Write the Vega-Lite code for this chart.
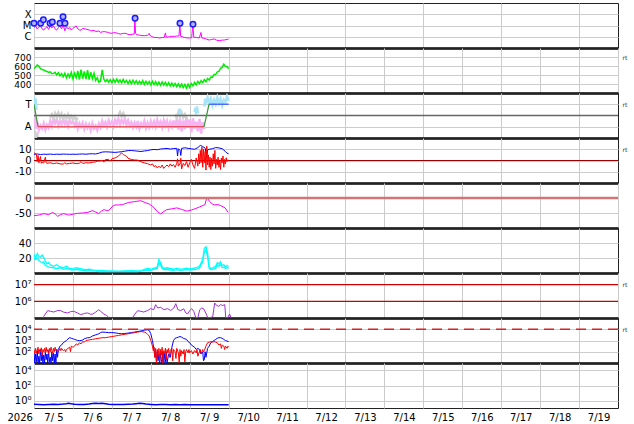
{
"$schema":"https://vega.github.io/schema/vega-lite/v6.json",
"padding":{"left":6,"top":2,"right":2,"bottom":2},
"bounds":"flush",
"spacing":0,
"config":{
 "view":{"stroke":"#222","strokeWidth":1},
 "font":"DejaVu Sans",
 "axis":{"labelFont":"DejaVu Sans","labelFontSize":10,"labelColor":"#000","gridColor":"#cccccc","gridWidth":1,"ticks":false,"domain":false,"labelPadding":3,"labelOverlap":false,"titleFont":"DejaVu Sans"}
},
"datasets":{
"xr":[{"h":0,"v":6.6e-6},{"h":1,"v":9e-6},{"h":2,"v":4.8e-6},{"h":3,"v":7e-6},{"h":4,"v":9.3e-6},{"h":5,"v":5e-6},{"h":6,"v":3.9e-6},{"h":7,"v":6e-6},{"h":8,"v":7.8e-6},{"h":9,"v":4.5e-6},{"h":10,"v":8.5e-6},{"h":11,"v":6e-6},{"h":12,"v":9.3e-6},{"h":13,"v":5e-6},{"h":14,"v":3.9e-6},{"h":15,"v":6.5e-6},{"h":16,"v":9e-6},{"h":17,"v":5e-6},{"h":18,"v":1.1e-5},{"h":19,"v":3.4e-6},{"h":20,"v":7.8e-6},{"h":21,"v":5e-6},{"h":22,"v":6.5e-6},{"h":23,"v":3.9e-6},{"h":24,"v":5.5e-6},{"h":26,"v":9.3e-6},{"h":27,"v":5e-6},{"h":28,"v":4e-6},{"h":29,"v":3.9e-6},{"h":30,"v":5.5e-6},{"h":32,"v":4.8e-6},{"h":34,"v":4e-6},{"h":35,"v":3.4e-6},{"h":37,"v":3.6e-6},{"h":38,"v":2.95e-6},{"h":40,"v":3.2e-6},{"h":41,"v":2.45e-6},{"h":43,"v":2.9e-6},{"h":44,"v":2.75e-6},{"h":46,"v":2.4e-6},{"h":47.5,"v":2.0e-6},{"h":49,"v":2.3e-6},{"h":50.6,"v":2.24e-6},{"h":52,"v":1.9e-6},{"h":53.6,"v":1.74e-6},{"h":55,"v":2.0e-6},{"h":56.7,"v":2.0e-6},{"h":58,"v":1.6e-6},{"h":59.8,"v":1.51e-6},{"h":61,"v":1.74e-6},{"h":61.8,"v":1.7e-6},{"h":62.2,"v":4.2e-5},{"h":62.6,"v":2.0e-6},{"h":63.5,"v":1.5e-6},{"h":64.9,"v":1.41e-6},{"h":66,"v":1.3e-6},{"h":68,"v":1.23e-6},{"h":70,"v":1.35e-6},{"h":71,"v":2.0e-6},{"h":71.5,"v":1.3e-6},{"h":73,"v":1.0e-6},{"h":74.2,"v":8.7e-7},{"h":76,"v":8.5e-7},{"h":77.2,"v":7.8e-7},{"h":79,"v":8.5e-7},{"h":80.3,"v":8.7e-7},{"h":81,"v":2.2e-6},{"h":81.6,"v":9e-7},{"h":83.4,"v":1.0e-6},{"h":85,"v":1.1e-6},{"h":86.5,"v":1.07e-6},{"h":88,"v":1.15e-6},{"h":89.4,"v":1.2e-6},{"h":89.9,"v":1.6e-5},{"h":90.4,"v":1.1e-6},{"h":92.6,"v":8.7e-7},{"h":94,"v":8e-7},{"h":95.7,"v":7.8e-7},{"h":97.2,"v":8e-7},{"h":97.9,"v":1.3e-5},{"h":98.5,"v":9e-7},{"h":100,"v":8.7e-7},{"h":101.9,"v":7.8e-7},{"h":102.9,"v":2.4e-6},{"h":103.5,"v":8e-7},{"h":104.9,"v":7.2e-7},{"h":106.5,"v":6e-7},{"h":108,"v":5.1e-7},{"h":109.5,"v":5.8e-7},{"h":111.1,"v":6.3e-7},{"h":112.5,"v":5e-7},{"h":114.2,"v":4.5e-7},{"h":116,"v":5e-7},{"h":117.3,"v":5.1e-7},{"h":119,"v":5.8e-7},{"h":120,"v":6.3e-7}],
"fl":[{"h":0,"v":1.6e-5},{"h":4.1,"v":1.6e-5},{"h":5.8,"v":3.2e-5},{"h":9.9,"v":1.6e-5},{"h":11.3,"v":2.1e-5},{"h":16,"v":1.6e-5},{"h":17.9,"v":5.9e-5},{"h":19.1,"v":1.6e-5},{"h":62.3,"v":4.5e-5},{"h":90,"v":1.6e-5},{"h":98,"v":1.3e-5}],
"sw":[{"h":0,"v":573},{"h":1,"v":590},{"h":2,"v":611},{"h":3,"v":600},{"h":4,"v":570},{"h":5,"v":560},{"h":6,"v":556},{"h":7,"v":545},{"h":8,"v":540},{"h":9,"v":528},{"h":10,"v":535},{"h":11,"v":515},{"h":12,"v":518},{"h":13,"v":530},{"h":14,"v":500},{"h":15,"v":525},{"h":16,"v":490},{"h":17,"v":515},{"h":18,"v":480},{"h":19,"v":520},{"h":20,"v":470},{"h":21,"v":510},{"h":22,"v":475},{"h":23,"v":530},{"h":24,"v":460},{"h":25,"v":520},{"h":26,"v":470},{"h":27,"v":545},{"h":28,"v":450},{"h":29,"v":560},{"h":30,"v":460},{"h":31,"v":540},{"h":32,"v":455},{"h":33,"v":555},{"h":34,"v":450},{"h":35,"v":530},{"h":36,"v":460},{"h":37,"v":520},{"h":38,"v":440},{"h":39,"v":470},{"h":40,"v":420},{"h":41,"v":430},{"h":42,"v":556},{"h":43,"v":455},{"h":44,"v":425},{"h":45,"v":450},{"h":46,"v":420},{"h":47,"v":448},{"h":48,"v":415},{"h":49,"v":452},{"h":50,"v":418},{"h":51,"v":455},{"h":52,"v":420},{"h":53,"v":445},{"h":54,"v":412},{"h":55,"v":450},{"h":56,"v":415},{"h":57,"v":440},{"h":58,"v":405},{"h":59,"v":440},{"h":60,"v":402},{"h":61,"v":442},{"h":62,"v":405},{"h":63,"v":435},{"h":64,"v":400},{"h":65,"v":432},{"h":66,"v":402},{"h":67,"v":438},{"h":68,"v":395},{"h":69,"v":430},{"h":70,"v":398},{"h":71,"v":428},{"h":72,"v":390},{"h":73,"v":430},{"h":74,"v":392},{"h":75,"v":425},{"h":76,"v":388},{"h":77,"v":420},{"h":78,"v":385},{"h":79,"v":422},{"h":80,"v":388},{"h":81,"v":418},{"h":82,"v":382},{"h":83,"v":415},{"h":84,"v":378},{"h":85,"v":410},{"h":86,"v":375},{"h":87,"v":405},{"h":88,"v":370},{"h":89,"v":402},{"h":90,"v":365},{"h":91,"v":400},{"h":92,"v":360},{"h":93,"v":395},{"h":94,"v":355},{"h":95,"v":398},{"h":96,"v":362},{"h":97,"v":405},{"h":98,"v":380},{"h":99,"v":418},{"h":100,"v":390},{"h":101,"v":428},{"h":102,"v":405},{"h":103,"v":438},{"h":104,"v":415},{"h":105,"v":448},{"h":106,"v":425},{"h":107,"v":462},{"h":108,"v":445},{"h":109,"v":478},{"h":110,"v":475},{"h":111,"v":505},{"h":112,"v":505},{"h":113,"v":535},{"h":114,"v":540},{"h":115,"v":575},{"h":116,"v":585},{"h":117,"v":620},{"h":118,"v":595},{"h":119,"v":595},{"h":120,"v":570}],
"pk":[{"h":0,"v":-0.3},{"h":0.5,"v":-1.0},{"h":1,"v":0.0},{"h":1.5,"v":-1.2},{"h":2,"v":-0.6},{"h":3,"v":-1.3},{"h":4,"v":-0.9},{"h":5,"v":-1.15},{"h":6,"v":-0.7},{"h":7,"v":-1.25},{"h":8,"v":-0.85},{"h":9,"v":-1.1},{"h":10,"v":-0.5},{"h":11,"v":-0.95},{"h":12,"v":-0.35},{"h":13,"v":-0.7},{"h":14,"v":-0.3},{"h":15,"v":-0.9},{"h":16,"v":-0.5},{"h":17,"v":-0.8},{"h":18,"v":-0.3},{"h":19,"v":-0.75},{"h":20,"v":-0.5},{"h":21,"v":-0.95},{"h":22,"v":-0.4},{"h":23,"v":-0.7},{"h":24,"v":-0.55},{"h":25,"v":-0.9},{"h":26,"v":-0.5},{"h":27,"v":-1.15},{"h":28,"v":-0.7},{"h":29,"v":-1.0},{"h":30,"v":-0.65},{"h":31,"v":-1.2},{"h":32,"v":-0.75},{"h":33,"v":-1.1},{"h":34,"v":-0.8},{"h":35,"v":-1.3},{"h":36,"v":-0.7},{"h":37,"v":-1.15},{"h":38,"v":-0.9},{"h":39,"v":-1.3},{"h":40,"v":-0.75},{"h":41,"v":-1.05},{"h":42,"v":-0.5},{"h":43,"v":-0.9},{"h":44,"v":-0.6},{"h":45,"v":-1.0},{"h":46,"v":-0.45},{"h":47,"v":-0.8},{"h":48,"v":-0.55},{"h":49,"v":-0.95},{"h":50,"v":-0.4},{"h":51,"v":-0.75},{"h":52,"v":-0.3},{"h":53,"v":-0.8},{"h":54,"v":-0.4},{"h":55,"v":-0.7},{"h":56,"v":-0.3},{"h":57,"v":-0.85},{"h":58,"v":-0.45},{"h":59,"v":-0.9},{"h":60,"v":-0.6},{"h":61,"v":-1.05},{"h":62,"v":-0.65},{"h":63,"v":-1.0},{"h":64,"v":-0.5},{"h":65,"v":-1.15},{"h":66,"v":-0.7},{"h":67,"v":-0.95},{"h":68,"v":-0.5},{"h":69,"v":-1.1},{"h":70,"v":-0.65},{"h":71,"v":-1.05},{"h":72,"v":-0.5},{"h":73,"v":-0.95},{"h":74,"v":-0.55},{"h":75,"v":-1.0},{"h":76,"v":-0.4},{"h":77,"v":-0.85},{"h":78,"v":-0.55},{"h":79,"v":-1.05},{"h":80,"v":-0.45},{"h":81,"v":-0.9},{"h":82,"v":-0.5},{"h":83,"v":-1.1},{"h":84,"v":-0.6},{"h":85,"v":-1.0},{"h":86,"v":-0.45},{"h":87,"v":-1.05},{"h":88,"v":-0.3},{"h":89,"v":-1.25},{"h":90,"v":-0.25},{"h":91,"v":-1.4},{"h":92,"v":-0.45},{"h":93,"v":-1.2},{"h":94,"v":-0.15},{"h":95,"v":-1.1},{"h":96,"v":-0.35},{"h":97,"v":-1.5},{"h":98,"v":-0.25},{"h":99,"v":-1.15},{"h":100,"v":-0.55},{"h":101,"v":-1.4},{"h":102,"v":-0.3},{"h":103,"v":-1.6},{"h":104,"v":-0.6},{"h":105,"v":-1.2}],
"gy":[{"s":"a","h":0,"v":-1.5},{"s":"a","h":0.5,"v":-1.8},{"s":"a","h":1,"v":-1.6},{"s":"a","h":1.5,"v":-1.85},{"s":"a","h":2,"v":-1.7},{"s":"a","h":2.5,"v":-1.9},
 {"s":"b","h":10,"v":-0.2},{"s":"b","h":11,"v":0.1},{"s":"b","h":12,"v":-0.3},{"s":"b","h":13,"v":0.2},{"s":"b","h":14,"v":-0.1},{"s":"b","h":15,"v":0.25},{"s":"b","h":16,"v":-0.2},{"s":"b","h":17,"v":0.15},{"s":"b","h":18,"v":-0.3},{"s":"b","h":19,"v":0.0},{"s":"b","h":20,"v":-0.25},{"s":"b","h":21,"v":0.1},{"s":"b","h":22,"v":-0.3},{"s":"b","h":23,"v":-0.05},{"s":"b","h":24,"v":-0.35},{"s":"b","h":25,"v":-0.1},{"s":"b","h":26,"v":-0.4},{"s":"b","h":27,"v":-0.2},
 {"s":"c","h":52,"v":0.0},{"s":"c","h":53,"v":0.3},{"s":"c","h":54,"v":-0.1},{"s":"c","h":55,"v":0.2},{"s":"c","h":56,"v":-0.15},
 {"s":"d","h":87,"v":0.1},{"s":"d","h":88,"v":-0.2},{"s":"d","h":89,"v":0.3},{"s":"d","h":90,"v":-0.1},{"s":"d","h":91,"v":0.25},{"s":"d","h":92,"v":-0.2},{"s":"d","h":93,"v":0.1},{"s":"d","h":94,"v":-0.3}],
"lb":[{"s":"a","h":0,"v":1.7},{"s":"a","h":0.5,"v":0.8},{"s":"a","h":1,"v":1.5},{"s":"a","h":1.5,"v":0.5},
 {"s":"b","h":89.5,"v":0.2},{"s":"b","h":90,"v":0.6},{"s":"b","h":90.5,"v":0.0},
 {"s":"c","h":99,"v":0.3},{"s":"c","h":99.5,"v":0.7},{"s":"c","h":100,"v":0.1},{"s":"c","h":100.5,"v":0.8},{"s":"c","h":101,"v":0.2},
 {"s":"d","h":105,"v":0.8},{"s":"d","h":105.5,"v":1.5},{"s":"d","h":106,"v":1.0},{"s":"d","h":107,"v":1.6},{"s":"d","h":108,"v":1.1},{"s":"d","h":109,"v":1.5},{"s":"d","h":110,"v":0.9},{"s":"d","h":111,"v":1.4},{"s":"d","h":112,"v":1.0},{"s":"d","h":113,"v":1.6},{"s":"d","h":114,"v":1.1},{"s":"d","h":115,"v":1.5},{"s":"d","h":116,"v":0.9},{"s":"d","h":117,"v":1.4},{"s":"d","h":118,"v":1.2},{"s":"d","h":119,"v":1.7},{"s":"d","h":120,"v":1.3}],
"sg":[{"s":"a","h":0,"v":1},{"s":"a","h":2.5,"v":-1},{"s":"b","h":104.8,"v":-1},{"s":"b","h":107.9,"v":1}],
"sr":[{"h":2.5,"v":-1},{"h":104.8,"v":-1}],
"sb":[{"h":107.9,"v":1},{"h":120,"v":1}],
"bt":[{"h":0,"v":5.5},{"h":2,"v":5.8},{"h":4,"v":5.3},{"h":6,"v":5.6},{"h":8,"v":5.5},{"h":10,"v":5.7},{"h":12,"v":5.4},{"h":14,"v":5.6},{"h":16,"v":5.5},{"h":18,"v":5.7},{"h":20,"v":5.6},{"h":22,"v":5.5},{"h":24,"v":5.6},{"h":26,"v":5.5},{"h":28,"v":5.7},{"h":30,"v":5.8},{"h":32,"v":5.6},{"h":34,"v":5.9},{"h":36,"v":6.0},{"h":38,"v":5.8},{"h":40,"v":6.5},{"h":42,"v":7.5},{"h":44,"v":7.7},{"h":46,"v":7.6},{"h":48,"v":7.4},{"h":50,"v":7.2},{"h":52,"v":7.5},{"h":54,"v":7.8},{"h":56,"v":8.3},{"h":58,"v":8.8},{"h":60,"v":8.9},{"h":62,"v":8.6},{"h":64,"v":8.3},{"h":66,"v":8.0},{"h":68,"v":8.5},{"h":70,"v":8.8},{"h":72,"v":9.5},{"h":74,"v":9.8},{"h":76,"v":9.6},{"h":78,"v":10.2},{"h":80,"v":10.5},{"h":82,"v":10.7},{"h":84,"v":10.2},{"h":86,"v":10.6},{"h":88,"v":10.8},{"h":88.5,"v":4.0},{"h":89,"v":10.5},{"h":90,"v":9.0},{"h":90.5,"v":4.5},{"h":91,"v":10.8},{"h":93,"v":11.3},{"h":95,"v":10.8},{"h":97,"v":10.4},{"h":99,"v":10.0},{"h":101,"v":11.5},{"h":102.5,"v":13.4},{"h":104,"v":12.5},{"h":105.5,"v":11.0},{"h":106.5,"v":2.5},{"h":107,"v":9.5},{"h":108,"v":10.0},{"h":110,"v":10.5},{"h":112,"v":11.5},{"h":114,"v":11.2},{"h":116,"v":10.5},{"h":118,"v":8.0},{"h":119,"v":6.5},{"h":120,"v":5.9}],
"bz":[{"h":0,"v":6.8},{"h":1,"v":6.0},{"h":1.5,"v":5.5},{"h":2,"v":-1},{"h":2.5,"v":4.5},{"h":3,"v":-2},{"h":4,"v":3.5},{"h":4.5,"v":-2.5},{"h":5,"v":-1.5},{"h":6,"v":-2.2},{"h":7,"v":3},{"h":7.5,"v":-2},{"h":8,"v":-2.5},{"h":10,"v":-2.0},{"h":12,"v":-2.8},{"h":14,"v":-2.2},{"h":16,"v":-3.0},{"h":18,"v":-3.2},{"h":19,"v":-2},{"h":20,"v":-3.0},{"h":22,"v":-2.6},{"h":24,"v":-2.2},{"h":26,"v":-2.8},{"h":28,"v":-2.4},{"h":29,"v":-1.0},{"h":30,"v":-2.6},{"h":32,"v":-2.0},{"h":34,"v":-2.2},{"h":36,"v":-1.6},{"h":38,"v":-1.2},{"h":39,"v":-0.5},{"h":40,"v":-0.6},{"h":42,"v":0.2},{"h":43,"v":-1.5},{"h":44,"v":0.8},{"h":46,"v":1.0},{"h":47,"v":-0.5},{"h":48,"v":1.5},{"h":50,"v":2.3},{"h":52,"v":3.8},{"h":53,"v":5.5},{"h":54,"v":6.8},{"h":55,"v":5.3},{"h":56,"v":4.5},{"h":57,"v":3.8},{"h":58,"v":2.0},{"h":60,"v":0.9},{"h":62,"v":0.5},{"h":64,"v":0.3},{"h":66,"v":-1.2},{"h":68,"v":-2.1},{"h":70,"v":-2.8},{"h":72,"v":-4.0},{"h":73,"v":-3.0},{"h":74,"v":-5.5},{"h":75,"v":-4.5},{"h":76,"v":-6.6},{"h":77,"v":-5.0},{"h":78,"v":-6.5},{"h":79,"v":-4.0},{"h":80,"v":-7.0},{"h":81,"v":-5.5},{"h":82,"v":-4.0},{"h":83,"v":-5.5},{"h":84,"v":-3.0},{"h":85,"v":-5.0},{"h":86,"v":-3.6},{"h":87,"v":-6.0},{"h":88,"v":-2.5},{"h":88.5,"v":1.5},{"h":89,"v":-5.0},{"h":90,"v":-3.0},{"h":90.5,"v":2.0},{"h":91,"v":-7.5},{"h":92,"v":-2.5},{"h":93,"v":-4.5},{"h":94,"v":-1.0},{"h":95,"v":-6.0},{"h":96,"v":-2.0},{"h":97,"v":1.0},{"h":98,"v":-4.0},{"h":99,"v":-7.0},{"h":100,"v":2.3},{"h":101,"v":-5.0},{"h":101.5,"v":6.0},{"h":102,"v":-3.0},{"h":102.5,"v":9.0},{"h":103,"v":-2.0},{"h":103.5,"v":12.0},{"h":104,"v":-6.0},{"h":104.5,"v":10.0},{"h":105,"v":-2.0},{"h":105.5,"v":8.0},{"h":106,"v":-8.5},{"h":106.5,"v":12.8},{"h":107,"v":-4.0},{"h":107.5,"v":5.0},{"h":108,"v":-6.0},{"h":108.5,"v":3.0},{"h":109,"v":-8.0},{"h":109.5,"v":2.0},{"h":110,"v":-5.0},{"h":110.5,"v":6.0},{"h":111,"v":-3.0},{"h":111.5,"v":9.0},{"h":112,"v":-7.0},{"h":112.5,"v":1.0},{"h":113,"v":-4.0},{"h":113.5,"v":3.0},{"h":114,"v":-6.0},{"h":114.5,"v":0.5},{"h":115,"v":-8.0},{"h":115.5,"v":2.0},{"h":116,"v":-2.0},{"h":116.5,"v":4.0},{"h":117,"v":-6.0},{"h":117.5,"v":1.0},{"h":118,"v":-3.0},{"h":118.5,"v":2.5},{"h":119,"v":-1.0},{"h":119.5,"v":0.5},{"h":120,"v":0}],
"dst":[{"h":0,"v":-59},{"h":3,"v":-57},{"h":6,"v":-52},{"h":7.5,"v":-54},{"h":9.1,"v":-55},{"h":11.5,"v":-48},{"h":13,"v":-53},{"h":14.6,"v":-61},{"h":16.5,"v":-55},{"h":18.3,"v":-52},{"h":20,"v":-55},{"h":21.4,"v":-57},{"h":24,"v":-54},{"h":26.9,"v":-51},{"h":30,"v":-50},{"h":33.1,"v":-48},{"h":36.1,"v":-42},{"h":38,"v":-47},{"h":39.9,"v":-52},{"h":41.5,"v":-44},{"h":43,"v":-39},{"h":44.5,"v":-41},{"h":46,"v":-42},{"h":49.1,"v":-24},{"h":52,"v":-23},{"h":54.7,"v":-22},{"h":56,"v":-19},{"h":58.4,"v":-15},{"h":62,"v":-12},{"h":65.8,"v":-9},{"h":68.9,"v":-16},{"h":71,"v":-20},{"h":73.2,"v":-28},{"h":76,"v":-45},{"h":78.1,"v":-53},{"h":80,"v":-45},{"h":81.8,"v":-39},{"h":85,"v":-36},{"h":88.1,"v":-33},{"h":91,"v":-38},{"h":94.3,"v":-44},{"h":97,"v":-40},{"h":99.2,"v":-36},{"h":102,"v":-30},{"h":105.4,"v":-22},{"h":106.6,"v":3},{"h":108,"v":-10},{"h":109.7,"v":-19},{"h":111,"v":-23},{"h":113.4,"v":-22},{"h":115,"v":-25},{"h":117.8,"v":-33},{"h":119.7,"v":-48}],
"na":[{"h":0,"v":25},{"h":1,"v":20},{"h":2,"v":26},{"h":3,"v":22},{"h":4,"v":21},{"h":5,"v":24},{"h":6,"v":21},{"h":7,"v":16},{"h":8,"v":12},{"h":9,"v":14},{"h":10,"v":11},{"h":12,"v":9},{"h":14,"v":11},{"h":16,"v":8},{"h":18,"v":7},{"h":20,"v":9},{"h":22,"v":6},{"h":24,"v":5.5},{"h":26,"v":7},{"h":28,"v":6},{"h":30,"v":5},{"h":32,"v":4.5},{"h":34,"v":5},{"h":36,"v":4},{"h":38,"v":3.5},{"h":40,"v":3.5},{"h":44,"v":3},{"h":48,"v":2.8},{"h":52,"v":2.5},{"h":56,"v":2.8},{"h":60,"v":3},{"h":64,"v":2.7},{"h":66,"v":3},{"h":68,"v":5},{"h":70,"v":6},{"h":72,"v":5},{"h":74,"v":6.5},{"h":76,"v":8},{"h":77,"v":18},{"h":78,"v":14},{"h":79,"v":8},{"h":80,"v":6},{"h":82,"v":7},{"h":84,"v":6},{"h":86,"v":5},{"h":88,"v":6.5},{"h":90,"v":5},{"h":92,"v":5.5},{"h":94,"v":6.5},{"h":96,"v":5.5},{"h":98,"v":6},{"h":100,"v":7},{"h":102,"v":9},{"h":104,"v":18},{"h":105,"v":33},{"h":106,"v":35},{"h":107,"v":27},{"h":108,"v":8},{"h":109,"v":6},{"h":110,"v":7},{"h":112,"v":9},{"h":113,"v":14},{"h":114,"v":12},{"h":115,"v":15},{"h":116,"v":10},{"h":117,"v":11},{"h":118,"v":8},{"h":119,"v":10},{"h":120,"v":9}],
"nb":[{"h":0,"v":20},{"h":1,"v":18},{"h":2,"v":20},{"h":3,"v":17},{"h":4,"v":15},{"h":5,"v":14},{"h":6,"v":15},{"h":7,"v":10},{"h":8,"v":9},{"h":9,"v":8},{"h":10,"v":7.5},{"h":12,"v":7},{"h":14,"v":6},{"h":16,"v":7},{"h":18,"v":5},{"h":20,"v":6},{"h":22,"v":4.5},{"h":24,"v":4},{"h":26,"v":5},{"h":28,"v":4},{"h":30,"v":3.5},{"h":32,"v":3},{"h":34,"v":3.5},{"h":36,"v":2.5},{"h":38,"v":2.5},{"h":40,"v":2},{"h":44,"v":2},{"h":48,"v":1.8},{"h":52,"v":1.8},{"h":56,"v":2},{"h":60,"v":2},{"h":64,"v":2},{"h":66,"v":2.5},{"h":68,"v":3.5},{"h":70,"v":4},{"h":72,"v":3.5},{"h":74,"v":5},{"h":76,"v":6},{"h":77,"v":14},{"h":78,"v":11},{"h":79,"v":6},{"h":80,"v":4.5},{"h":82,"v":5},{"h":84,"v":4},{"h":86,"v":3.5},{"h":88,"v":4.5},{"h":90,"v":3.5},{"h":92,"v":4},{"h":94,"v":4.5},{"h":96,"v":4},{"h":98,"v":4.5},{"h":100,"v":5},{"h":102,"v":7},{"h":104,"v":15},{"h":105,"v":28},{"h":106,"v":31},{"h":107,"v":22},{"h":108,"v":6},{"h":109,"v":4.5},{"h":110,"v":5},{"h":112,"v":6},{"h":113,"v":11},{"h":114,"v":9},{"h":115,"v":12},{"h":116,"v":7},{"h":117,"v":8},{"h":118,"v":6},{"h":119,"v":7},{"h":120,"v":7}],
"pe":[{"s":"a","h":5.8,"v":100000},{"s":"a","h":6,"v":126000},{"s":"a","h":8.4,"v":275000},{"s":"a","h":10.3,"v":251000},{"s":"a","h":12.1,"v":229000},{"s":"a","h":14.6,"v":282000},{"s":"a","h":16.5,"v":275000},{"s":"a","h":18.3,"v":224000},{"s":"a","h":20.8,"v":200000},{"s":"a","h":22.6,"v":240000},{"s":"a","h":24.5,"v":251000},{"s":"a","h":26.9,"v":200000},{"s":"a","h":28.8,"v":158000},{"s":"a","h":31.3,"v":191000},{"s":"a","h":33.1,"v":200000},{"s":"a","h":35,"v":166000},{"s":"a","h":36.2,"v":174000},{"s":"a","h":38,"v":224000},{"s":"a","h":39.9,"v":316000},{"s":"a","h":41.1,"v":251000},{"s":"a","h":43,"v":174000},{"s":"a","h":44.8,"v":141000},{"s":"a","h":46,"v":112000},
 {"s":"b","h":60.7,"v":105000},{"s":"b","h":62.7,"v":200000},{"s":"b","h":63.9,"v":275000},{"s":"b","h":65.8,"v":251000},{"s":"b","h":67.6,"v":229000},{"s":"b","h":70.1,"v":282000},{"s":"b","h":71.9,"v":363000},{"s":"b","h":73.8,"v":316000},{"s":"b","h":75,"v":631000},{"s":"b","h":76.3,"v":398000},{"s":"b","h":78.1,"v":437000},{"s":"b","h":80,"v":316000},{"s":"b","h":82.4,"v":363000},{"s":"b","h":84.3,"v":282000},{"s":"b","h":86.2,"v":398000},{"s":"b","h":87.4,"v":724000},{"s":"b","h":88.7,"v":316000},{"s":"b","h":90.5,"v":282000},{"s":"b","h":92.3,"v":355000},{"s":"b","h":93.6,"v":200000},{"s":"b","h":94.8,"v":178000},{"s":"b","h":96,"v":282000},{"s":"b","h":97.2,"v":363000},{"s":"b","h":98.5,"v":251000},{"s":"b","h":99.7,"v":105000},{"s":"b","h":101,"v":105000},{"s":"b","h":102.2,"v":316000},{"s":"b","h":103.4,"v":398000},{"s":"b","h":104.6,"v":355000},{"s":"b","h":105.9,"v":200000},{"s":"b","h":107.1,"v":105000},{"s":"b","h":109,"v":105000},{"s":"b","h":110.2,"v":126000},{"s":"b","h":111.4,"v":794000},{"s":"b","h":112.6,"v":562000},{"s":"b","h":113.9,"v":501000},{"s":"b","h":115.1,"v":631000},{"s":"b","h":116.3,"v":562000},{"s":"b","h":117.6,"v":631000},{"s":"b","h":118.2,"v":105000},{"s":"b","h":119.4,"v":105000},{"s":"b","h":120.6,"v":174000},{"s":"b","h":121.3,"v":110000}],
"b8":[{"h":0,"v":100},{"h":0.5,"v":10},{"h":1,"v":63},{"h":1.5,"v":12.6},{"h":2,"v":126},{"h":2.5,"v":10},{"h":3,"v":40},{"h":3.5,"v":10},{"h":4,"v":158},{"h":4.5,"v":15.8},{"h":5,"v":79},{"h":5.5,"v":10},{"h":6,"v":50},{"h":6.5,"v":10},{"h":7,"v":100},{"h":7.5,"v":20},{"h":8,"v":63},{"h":8.5,"v":10},{"h":9,"v":126},{"h":9.5,"v":12.6},{"h":10,"v":32},{"h":10.5,"v":10},{"h":11,"v":100},{"h":11.5,"v":15.8},{"h":12,"v":79},{"h":12.5,"v":10},{"h":13,"v":63},{"h":13.5,"v":10},{"h":14,"v":158},{"h":14.5,"v":32},{"h":15,"v":158},{"h":16,"v":316},{"h":17,"v":398},{"h":18,"v":631},{"h":19,"v":794},{"h":20,"v":1000},{"h":21,"v":1413},{"h":22,"v":1778},{"h":23,"v":1585},{"h":24,"v":1413},{"h":25,"v":1259},{"h":26,"v":1122},{"h":27,"v":1000},{"h":28,"v":1000},{"h":29,"v":1000},{"h":30,"v":1122},{"h":31,"v":1413},{"h":32,"v":1585},{"h":33,"v":1778},{"h":34,"v":1778},{"h":35,"v":1995},{"h":36,"v":2512},{"h":37,"v":2818},{"h":38,"v":3162},{"h":39,"v":3548},{"h":40,"v":3981},{"h":41,"v":5012},{"h":42,"v":5623},{"h":44,"v":5370},{"h":46,"v":5012},{"h":48,"v":5012},{"h":50,"v":4786},{"h":52,"v":4266},{"h":54,"v":3981},{"h":56,"v":4169},{"h":58,"v":4571},{"h":60,"v":5012},{"h":62,"v":5623},{"h":64,"v":6310},{"h":66,"v":7079},{"h":68,"v":8318},{"h":70,"v":8913},{"h":71,"v":7943},{"h":72,"v":3981},{"h":73,"v":1000},{"h":74,"v":158},{"h":74.5,"v":32},{"h":75,"v":126},{"h":75.5,"v":10},{"h":76,"v":100},{"h":76.5,"v":15.8},{"h":77,"v":63},{"h":77.5,"v":10},{"h":78,"v":79},{"h":78.5,"v":20},{"h":79,"v":10},{"h":79.5,"v":100},{"h":80,"v":10},{"h":80.5,"v":63},{"h":81,"v":12.6},{"h":81.5,"v":100},{"h":82,"v":10},{"h":83,"v":63},{"h":84,"v":32},{"h":85,"v":251},{"h":86,"v":1000},{"h":87,"v":1585},{"h":88,"v":1778},{"h":89,"v":1995},{"h":90,"v":2239},{"h":91,"v":1995},{"h":92,"v":1585},{"h":93,"v":1413},{"h":94,"v":1259},{"h":95,"v":794},{"h":96,"v":631},{"h":97,"v":398},{"h":98,"v":316},{"h":99,"v":251},{"h":100,"v":158},{"h":101,"v":200},{"h":102,"v":158},{"h":103,"v":63},{"h":104,"v":100},{"h":104.5,"v":15.8},{"h":105,"v":20},{"h":105.5,"v":100},{"h":106,"v":32},{"h":107,"v":200},{"h":108,"v":316},{"h":109,"v":631},{"h":110,"v":794},{"h":111,"v":1000},{"h":112,"v":1259},{"h":113,"v":1585},{"h":114,"v":1778},{"h":115,"v":1778},{"h":116,"v":1585},{"h":117,"v":1259},{"h":118,"v":1000},{"h":119,"v":891},{"h":120,"v":794}],
"r8":[{"h":0,"v":158},{"h":0.5,"v":63},{"h":1,"v":200},{"h":1.5,"v":79},{"h":2,"v":126},{"h":2.5,"v":251},{"h":3,"v":63},{"h":3.5,"v":158},{"h":4,"v":100},{"h":4.5,"v":224},{"h":5,"v":50},{"h":5.5,"v":158},{"h":6,"v":100},{"h":6.5,"v":200},{"h":7,"v":79},{"h":7.5,"v":251},{"h":8,"v":100},{"h":8.5,"v":158},{"h":9,"v":63},{"h":9.5,"v":200},{"h":10,"v":100},{"h":10.5,"v":251},{"h":11,"v":126},{"h":11.5,"v":79},{"h":12,"v":200},{"h":12.5,"v":100},{"h":13,"v":251},{"h":13.5,"v":126},{"h":14,"v":158},{"h":15,"v":100},{"h":16,"v":200},{"h":16.5,"v":126},{"h":17,"v":200},{"h":18,"v":126},{"h":19,"v":158},{"h":19.5,"v":100},{"h":20,"v":158},{"h":21,"v":200},{"h":22,"v":251},{"h":22.5,"v":100},{"h":23,"v":316},{"h":24,"v":251},{"h":25,"v":316},{"h":26,"v":501},{"h":27,"v":398},{"h":28,"v":631},{"h":29,"v":501},{"h":30,"v":794},{"h":31,"v":708},{"h":32,"v":1000},{"h":34,"v":1122},{"h":36,"v":1259},{"h":38,"v":1413},{"h":40,"v":1585},{"h":42,"v":1778},{"h":44,"v":1778},{"h":46,"v":1995},{"h":48,"v":2239},{"h":50,"v":2512},{"h":52,"v":2818},{"h":54,"v":3162},{"h":56,"v":3548},{"h":58,"v":3981},{"h":60,"v":4467},{"h":62,"v":5012},{"h":64,"v":5623},{"h":66,"v":6310},{"h":68,"v":5623},{"h":69,"v":5012},{"h":70,"v":3548},{"h":71,"v":2512},{"h":72,"v":1000},{"h":73,"v":316},{"h":73.5,"v":126},{"h":74,"v":251},{"h":74.5,"v":32},{"h":75,"v":200},{"h":75.5,"v":10},{"h":76,"v":158},{"h":76.5,"v":40},{"h":77,"v":200},{"h":77.5,"v":15.8},{"h":78,"v":158},{"h":78.5,"v":50},{"h":79,"v":251},{"h":79.5,"v":10},{"h":80,"v":126},{"h":80.5,"v":63},{"h":81,"v":200},{"h":81.5,"v":20},{"h":82,"v":158},{"h":82.5,"v":79},{"h":83,"v":200},{"h":83.5,"v":32},{"h":84,"v":126},{"h":85,"v":200},{"h":85.5,"v":15.8},{"h":86,"v":158},{"h":87,"v":100},{"h":87.5,"v":25},{"h":88,"v":200},{"h":89,"v":79},{"h":89.5,"v":10},{"h":90,"v":158},{"h":90.5,"v":40},{"h":91,"v":126},{"h":92,"v":63},{"h":92.5,"v":158},{"h":93,"v":12.6},{"h":93.5,"v":100},{"h":94,"v":158},{"h":95,"v":79},{"h":95.5,"v":158},{"h":96,"v":79},{"h":97,"v":126},{"h":98,"v":63},{"h":99,"v":126},{"h":100,"v":79},{"h":100.5,"v":158},{"h":101,"v":40},{"h":102,"v":100},{"h":102.5,"v":158},{"h":103,"v":63},{"h":104,"v":158},{"h":104.5,"v":100},{"h":105,"v":126},{"h":106,"v":316},{"h":107,"v":631},{"h":108,"v":708},{"h":109,"v":794},{"h":110,"v":708},{"h":111,"v":794},{"h":112,"v":708},{"h":113,"v":631},{"h":114,"v":398},{"h":115,"v":501},{"h":115.5,"v":200},{"h":116,"v":398},{"h":117,"v":316},{"h":117.5,"v":158},{"h":118,"v":316},{"h":119,"v":200},{"h":119.5,"v":316},{"h":120,"v":251}],
"b9":[{"h":0,"v":0.32},{"h":3,"v":0.3},{"h":6,"v":0.28},{"h":9,"v":0.3},{"h":12,"v":0.31},{"h":15,"v":0.29},{"h":18,"v":0.33},{"h":20,"v":0.38},{"h":21,"v":0.42},{"h":22,"v":0.4},{"h":23,"v":0.36},{"h":25,"v":0.31},{"h":28,"v":0.29},{"h":31,"v":0.3},{"h":34,"v":0.33},{"h":36,"v":0.4},{"h":38,"v":0.43},{"h":40,"v":0.41},{"h":42,"v":0.44},{"h":44,"v":0.38},{"h":46,"v":0.32},{"h":49,"v":0.3},{"h":52,"v":0.29},{"h":55,"v":0.3},{"h":58,"v":0.31},{"h":61,"v":0.33},{"h":63,"v":0.38},{"h":65,"v":0.42},{"h":67,"v":0.39},{"h":69,"v":0.33},{"h":72,"v":0.3},{"h":75,"v":0.28},{"h":78,"v":0.29},{"h":81,"v":0.3},{"h":84,"v":0.28},{"h":87,"v":0.29},{"h":90,"v":0.28},{"h":93,"v":0.29},{"h":96,"v":0.28},{"h":99,"v":0.28},{"h":102,"v":0.27},{"h":105,"v":0.28},{"h":108,"v":0.27},{"h":111,"v":0.27},{"h":114,"v":0.27},{"h":117,"v":0.28},{"h":120,"v":0.28}]
},
"vconcat":[
{"width":584,"height":45,"layer":[
 {"data":{"name":"xr"},"mark":{"type":"line","color":"#ff00ff","strokeWidth":1,"clip":true},
  "encoding":{"x":{"field":"h","type":"quantitative","scale":{"domain":[0,360],"nice":false,"zero":false},"axis":{"orient":"bottom","values":[0,24,48,72,96,120,144,168,192,216,240,264,288,312,336,360],"labels":false,"ticks":false,"domain":true,"domainColor":"#000","domainWidth":2.5,"grid":true,"title":null}},
   "y":{"field":"v","type":"quantitative","scale":{"type":"log","domain":[1e-7,1e-3],"nice":false},"axis":{"orient":"left","values":[1e-6,1e-5,1e-4],"labelExpr":"datum.value > 5e-5 ? 'X' : (datum.value > 5e-6 ? 'M' : 'C')","grid":true,"title":null}}}},
 {"data":{"name":"fl"},"mark":{"type":"point","shape":"circle","filled":true,"fill":"#b4b4ff","stroke":"#1a1aff","strokeWidth":1.5,"size":30,"opacity":1},
  "encoding":{"x":{"field":"h","type":"quantitative"},"y":{"field":"v","type":"quantitative"}}}
]},
{"width":584,"height":45,"resolve":{"axis":{"y":"independent"}},"layer":[
 {"data":{"name":"sw"},"mark":{"type":"line","color":"#00ee00","strokeWidth":1.5,"clip":true},
  "encoding":{"x":{"field":"h","type":"quantitative","scale":{"domain":[0,360],"nice":false,"zero":false},"axis":{"orient":"bottom","values":[0,24,48,72,96,120,144,168,192,216,240,264,288,312,336,360],"labels":false,"ticks":false,"domain":true,"domainColor":"#000","domainWidth":2.5,"grid":true,"title":null}},
   "y":{"field":"v","type":"quantitative","scale":{"domain":[300,800],"nice":false,"zero":false},"axis":{"orient":"left","values":[400,500,600,700],"grid":true,"title":null,"labelFontSize":9}}}},
 {"data":{"values":[{}]},"mark":{"type":"rule","strokeOpacity":0},
  "encoding":{"y":{"datum":700,"type":"quantitative","axis":{"orient":"right","values":[700],"labelExpr":"'rt'","grid":false,"labelFontSize":6,"labelPadding":4,"labelColor":"#333","title":null}}}}
]},
{"width":584,"height":45,"resolve":{"axis":{"y":"independent"}},"layer":[
 {"data":{"name":"pk"},"mark":{"type":"line","color":"#f6b4f2","strokeWidth":2.5,"clip":true},
  "encoding":{"x":{"field":"h","type":"quantitative","scale":{"domain":[0,360],"nice":false,"zero":false},"axis":{"orient":"bottom","values":[0,24,48,72,96,120,144,168,192,216,240,264,288,312,336,360],"labels":false,"ticks":false,"domain":true,"domainColor":"#000","domainWidth":2.5,"grid":true,"title":null}},
   "y":{"field":"v","type":"quantitative","scale":{"domain":[-2,2],"nice":false,"zero":false},"axis":{"orient":"left","values":[-1,1],"labelExpr":"datum.value > 0 ? 'T' : 'A'","grid":true,"title":null}}}},
 {"data":{"name":"gy"},"mark":{"type":"line","color":"#d2d2d2","strokeWidth":2.5,"clip":true},
  "encoding":{"x":{"field":"h","type":"quantitative"},"y":{"field":"v","type":"quantitative","axis":null},"detail":{"field":"s"}}},
 {"data":{"name":"lb"},"mark":{"type":"line","color":"#a8e4f8","strokeWidth":2.5,"clip":true},
  "encoding":{"x":{"field":"h","type":"quantitative"},"y":{"field":"v","type":"quantitative","axis":null},"detail":{"field":"s"}}},
 {"data":{"values":[{}]},"mark":{"type":"rule","color":"#666666","strokeWidth":1.5},
  "encoding":{"y":{"datum":0,"type":"quantitative","axis":{"orient":"right","values":[1],"labelExpr":"'rt'","grid":false,"labelFontSize":6,"labelPadding":4,"labelColor":"#333","title":null}}}},
 {"data":{"name":"sg"},"mark":{"type":"line","color":"#3c963c","strokeWidth":1.2,"clip":true},
  "encoding":{"x":{"field":"h","type":"quantitative"},"y":{"field":"v","type":"quantitative","axis":null},"detail":{"field":"s"}}},
 {"data":{"name":"sr"},"mark":{"type":"line","color":"#e03030","strokeWidth":1.2,"clip":true},
  "encoding":{"x":{"field":"h","type":"quantitative"},"y":{"field":"v","type":"quantitative","axis":null}}},
 {"data":{"name":"sb"},"mark":{"type":"line","color":"#4d6bff","strokeWidth":1.5,"clip":true},
  "encoding":{"x":{"field":"h","type":"quantitative"},"y":{"field":"v","type":"quantitative","axis":null}}}
]},
{"width":584,"height":45,"resolve":{"axis":{"y":"independent"}},"layer":[
 {"data":{"name":"bt"},"mark":{"type":"line","color":"#0000ff","strokeWidth":1,"clip":true},
  "encoding":{"x":{"field":"h","type":"quantitative","scale":{"domain":[0,360],"nice":false,"zero":false},"axis":{"orient":"bottom","values":[0,24,48,72,96,120,144,168,192,216,240,264,288,312,336,360],"labels":false,"ticks":false,"domain":true,"domainColor":"#000","domainWidth":2.5,"grid":true,"title":null}},
   "y":{"field":"v","type":"quantitative","scale":{"domain":[-20,20],"nice":false,"zero":false},"axis":{"orient":"left","values":[-10,0,10],"labelExpr":"datum.value < 0 ? '-' + abs(datum.value) : '' + datum.value","grid":true,"title":null}}}},
 {"data":{"values":[{}]},"mark":{"type":"rule","color":"#990000","strokeWidth":1.2},
  "encoding":{"y":{"datum":0,"type":"quantitative","axis":{"orient":"right","values":[10],"labelExpr":"'rt'","grid":false,"labelFontSize":6,"labelPadding":4,"labelColor":"#333","title":null}}}},
 {"data":{"name":"bz"},"mark":{"type":"line","color":"#ff0000","strokeWidth":1,"clip":true},
  "encoding":{"x":{"field":"h","type":"quantitative"},"y":{"field":"v","type":"quantitative","axis":null}}}
]},
{"width":584,"height":45,"layer":[
 {"data":{"name":"dst"},"mark":{"type":"line","color":"#ff00ff","strokeWidth":1,"clip":true},
  "encoding":{"x":{"field":"h","type":"quantitative","scale":{"domain":[0,360],"nice":false,"zero":false},"axis":{"orient":"bottom","values":[0,24,48,72,96,120,144,168,192,216,240,264,288,312,336,360],"labels":false,"ticks":false,"domain":true,"domainColor":"#000","domainWidth":2.5,"grid":true,"title":null}},
   "y":{"field":"v","type":"quantitative","scale":{"domain":[-100,50],"nice":false,"zero":false},"axis":{"orient":"left","values":[-50,0],"labelExpr":"datum.value < 0 ? '-' + abs(datum.value) : '' + datum.value","grid":true,"title":null}}}},
 {"data":{"values":[{}]},"mark":{"type":"rule","color":"#d47474","strokeWidth":2.5},
  "encoding":{"y":{"datum":0,"type":"quantitative"}}}
]},
{"width":584,"height":45,"layer":[
 {"data":{"name":"na"},"mark":{"type":"line","color":"#00ffff","strokeWidth":1.3,"clip":true},
  "encoding":{"x":{"field":"h","type":"quantitative","scale":{"domain":[0,360],"nice":false,"zero":false},"axis":{"orient":"bottom","values":[0,24,48,72,96,120,144,168,192,216,240,264,288,312,336,360],"labels":false,"ticks":false,"domain":true,"domainColor":"#000","domainWidth":2.5,"grid":true,"title":null}},
   "y":{"field":"v","type":"quantitative","scale":{"domain":[0,60],"nice":false,"zero":false},"axis":{"orient":"left","values":[20,40],"grid":true,"title":null}}}},
 {"data":{"name":"nb"},"mark":{"type":"line","color":"#00ffff","strokeWidth":1.3,"clip":true},
  "encoding":{"x":{"field":"h","type":"quantitative"},"y":{"field":"v","type":"quantitative"}}}
]},
{"width":584,"height":45,"resolve":{"axis":{"y":"independent"}},"layer":[
 {"data":{"name":"pe"},"mark":{"type":"line","color":"#a030d0","strokeWidth":1,"clip":true},
  "encoding":{"x":{"field":"h","type":"quantitative","scale":{"domain":[0,360],"nice":false,"zero":false},"axis":{"orient":"bottom","values":[0,24,48,72,96,120,144,168,192,216,240,264,288,312,336,360],"labels":false,"ticks":false,"domain":true,"domainColor":"#000","domainWidth":2.5,"grid":true,"title":null}},
   "y":{"field":"v","type":"quantitative","scale":{"type":"log","domain":[1e5,5e7],"nice":false},"axis":{"orient":"left","values":[1e6,1e7],"labelExpr":"datum.value > 5e6 ? '10⁷' : '10⁶'","grid":false,"title":null}},
   "detail":{"field":"s"}}},
 {"data":{"values":[{}]},"mark":{"type":"rule","color":"#cc0000","strokeWidth":1.2},
  "encoding":{"y":{"datum":10000000,"type":"quantitative","axis":{"orient":"right","values":[10000000],"labelExpr":"'rt'","grid":false,"labelFontSize":6,"labelPadding":4,"labelColor":"#333","title":null}}}},
 {"data":{"values":[{}]},"mark":{"type":"rule","color":"#cc0000","strokeWidth":1.2},
  "encoding":{"y":{"datum":1000000,"type":"quantitative","axis":null}}}
]},
{"width":584,"height":45,"resolve":{"axis":{"y":"independent"}},"layer":[
 {"data":{"name":"b8"},"mark":{"type":"line","color":"#0000ff","strokeWidth":1,"clip":true},
  "encoding":{"x":{"field":"h","type":"quantitative","scale":{"domain":[0,360],"nice":false,"zero":false},"axis":{"orient":"bottom","values":[0,24,48,72,96,120,144,168,192,216,240,264,288,312,336,360],"labels":false,"ticks":false,"domain":true,"domainColor":"#000","domainWidth":2.5,"grid":true,"title":null}},
   "y":{"field":"v","type":"quantitative","scale":{"type":"log","domain":[10,100000],"nice":false},"axis":{"orient":"left","values":[100,1000,10000],"labelExpr":"datum.value > 5000 ? '10⁴' : (datum.value > 500 ? '10³' : '10²')","grid":true,"title":null}}}},
 {"data":{"name":"r8"},"mark":{"type":"line","color":"#ff0000","strokeWidth":1,"clip":true},
  "encoding":{"x":{"field":"h","type":"quantitative"},"y":{"field":"v","type":"quantitative","axis":null}}},
 {"data":{"values":[{}]},"mark":{"type":"rule","color":"#dd2222","strokeWidth":1.5,"strokeDash":[10,6]},
  "encoding":{"y":{"datum":10000,"type":"quantitative","axis":{"orient":"right","values":[10000],"labelExpr":"'rt'","grid":false,"labelFontSize":6,"labelPadding":4,"labelColor":"#333","title":null}}}}
]},
{"width":584,"height":45,"layer":[
 {"data":{"name":"b9"},"mark":{"type":"line","color":"#0000ff","strokeWidth":1.5,"clip":true},
  "encoding":{"x":{"field":"h","type":"quantitative","scale":{"domain":[0,360],"nice":false,"zero":false},"axis":{"orient":"bottom","values":[0,24,48,72,96,120,144,168,192,216,240,264,288,312,336],"labels":true,"labelExpr":"'7/' + (datum.value/24+5 < 10 ? ' ' : '') + (datum.value/24+5)","labelOffset":19.5,"labelFlush":false,"labelOverlap":false,"labelPadding":4,"ticks":false,"domain":false,"grid":true,"title":"2026","titleX":-27,"titleY":4,"titleAlign":"left","titleBaseline":"top","titleFontSize":10,"titleFontWeight":"normal","titleColor":"#000","titleAngle":0}},
   "y":{"field":"v","type":"quantitative","scale":{"type":"log","domain":[0.1,100000],"nice":false},"axis":{"orient":"left","values":[1,100,10000],"labelExpr":"datum.value > 5000 ? '10⁴' : (datum.value > 50 ? '10²' : '10⁰')","grid":true,"title":null}}}}
]}
]
}
